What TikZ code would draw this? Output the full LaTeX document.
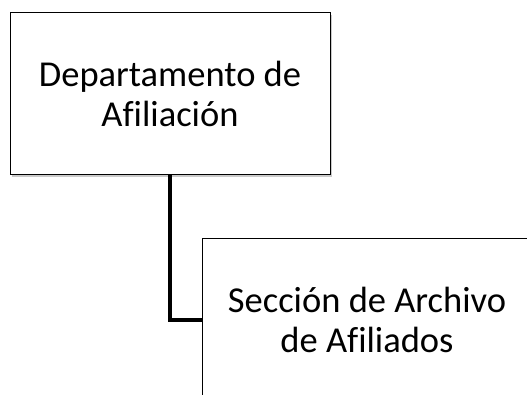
\documentclass[tikz,border=0pt]{standalone}
\usepackage{fontspec}
\setmainfont{Carlito}[Ligatures=CommonOff]
\usetikzlibrary{shadows}
\begin{document}
\begin{tikzpicture}[x=1pt,y=-1pt,
  orgbox/.style={draw=black,line width=1pt,fill=white,rectangle,
    minimum width=320pt,minimum height=162pt,inner sep=0pt,align=center,
    font=\fontsize{36.5}{40}\selectfont,
    drop shadow={shadow xshift=2pt,shadow yshift=-2pt,fill=black!35,opacity=0.6}},
  link/.style={line width=3.5pt,draw=black}]
\useasboundingbox (0,0) rectangle (527,395);
\clip (0,0) rectangle (527,395);
\node[orgbox] (b1) at (170,94) {Departamento de\\Afiliación};
\node[orgbox,minimum width=330pt] (b2) at (367,320) {Sección de Archivo\\de Afiliados};
\draw[link] (b1.south) |- (b2.west);
\end{tikzpicture}
\end{document}
